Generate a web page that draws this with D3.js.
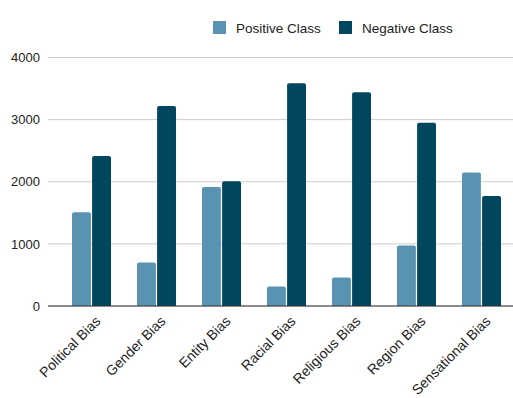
<!DOCTYPE html>
<html>
<head>
<meta charset="utf-8">
<script src="https://cdn.jsdelivr.net/npm/d3@7"></script>
<style>
  body { margin: 0; background: #fff; }
  svg { font-family: "Liberation Sans", Arial, sans-serif; }
</style>
</head>
<body>
<div id="chart"></div>
<script>
// chart data
var categories = ["Political Bias", "Gender Bias", "Entity Bias", "Racial Bias", "Religious Bias", "Region Bias", "Sensational Bias"];
var seriesNames = ["Positive Class", "Negative Class"];
var positiveValues = [1510, 700, 1915, 315, 460, 975, 2150];
var negativeValues = [2415, 3220, 2010, 3585, 3440, 2950, 1770];
var yTicks = [0, 1000, 2000, 3000, 4000];
var colors = ["#5a93b1", "#00465f"];

var width = 513, height = 398;
var margin = {top: 57.5, right: 0, bottom: 92, left: 48};

var svg = d3.select("#chart").append("svg")
	.attr("width", width)
	.attr("height", height);

var x = d3.scaleBand()
	.domain(categories)
	.range([59, 514])
	.paddingInner(0)
	.paddingOuter(0);

var xInner = d3.scaleBand()
	.domain(seriesNames)
	.range([0, 39])
	.paddingInner(0.06);

var y = d3.scaleLinear()
	.domain([0, 4000])
	.range([height - margin.bottom, margin.top]);

// gridlines
svg.append("g")
	.selectAll("line")
	.data(yTicks)
	.enter().append("line")
	.attr("x1", margin.left)
	.attr("x2", width)
	.attr("y1", d => y(d))
	.attr("y2", d => y(d))
	.attr("stroke", "#cccccc")
	.attr("stroke-width", 1);

// y axis labels
var yAxis = d3.axisLeft(y).tickValues(yTicks).tickFormat(d3.format("d")).tickSize(0).tickPadding(8);
svg.append("g")
	.attr("transform", "translate(" + margin.left + ",0)")
	.call(yAxis)
	.call(g => g.select(".domain").remove())
	.selectAll("text")
	.attr("font-size", 13)
	.attr("font-family", "Liberation Sans, Arial, sans-serif")
	.attr("fill", "#222");

// bars
var rows = categories.map((c, i) => ({cat: c, vals: [positiveValues[i], negativeValues[i]]}));
var groups = svg.append("g")
	.selectAll("g")
	.data(rows)
	.enter().append("g")
	.attr("transform", d => "translate(" + (x(d.cat) + (x.bandwidth() - 39) / 2) + ",0)");

groups.selectAll("path")
	.data(d => d.vals.map((v, j) => ({name: seriesNames[j], value: v, idx: j})))
	.enter().append("path")
	.attr("fill", d => colors[d.idx])
	.attr("d", d => {
		var x0 = xInner(d.name), w = xInner.bandwidth();
		var y0 = y(d.value), y1 = y(0), r = 2;
		return "M" + x0 + "," + y1 +
			"V" + (y0 + r) +
			"Q" + x0 + "," + y0 + " " + (x0 + r) + "," + y0 +
			"H" + (x0 + w - r) +
			"Q" + (x0 + w) + "," + y0 + " " + (x0 + w) + "," + (y0 + r) +
			"V" + y1 + "Z";
	});

// baseline
svg.append("line")
	.attr("x1", margin.left)
	.attr("x2", width)
	.attr("y1", y(0))
	.attr("y2", y(0))
	.attr("stroke", "#333333")
	.attr("stroke-width", 1);

// x labels
var xAxis = d3.axisBottom(x).tickSize(0).tickPadding(0);
svg.append("g")
	.attr("transform", "translate(0," + y(0) + ")")
	.call(xAxis)
	.call(g => g.select(".domain").remove())
	.selectAll("text")
	.attr("font-size", 14)
	.attr("font-family", "Liberation Sans, Arial, sans-serif")
	.attr("fill", "#222")
	.attr("text-anchor", "end")
	.attr("x", 0)
	.attr("y", 0)
	.attr("dy", 0)
	.attr("transform", "translate(10,16) rotate(-45)");

// legend
var legend = svg.append("g").attr("transform", "translate(213,21)");
var legendX = [0, 126];
seriesNames.forEach((name, i) => {
	var item = legend.append("g").attr("transform", "translate(" + legendX[i] + ",0)");
	item.append("rect")
		.attr("width", 13)
		.attr("height", 13)
		.attr("fill", colors[i]);
	item.append("text")
		.attr("x", 23)
		.attr("y", 11.5)
		.attr("font-size", 13.5)
		.attr("fill", "#222")
		.text(name);
});
</script>
</body>
</html>
